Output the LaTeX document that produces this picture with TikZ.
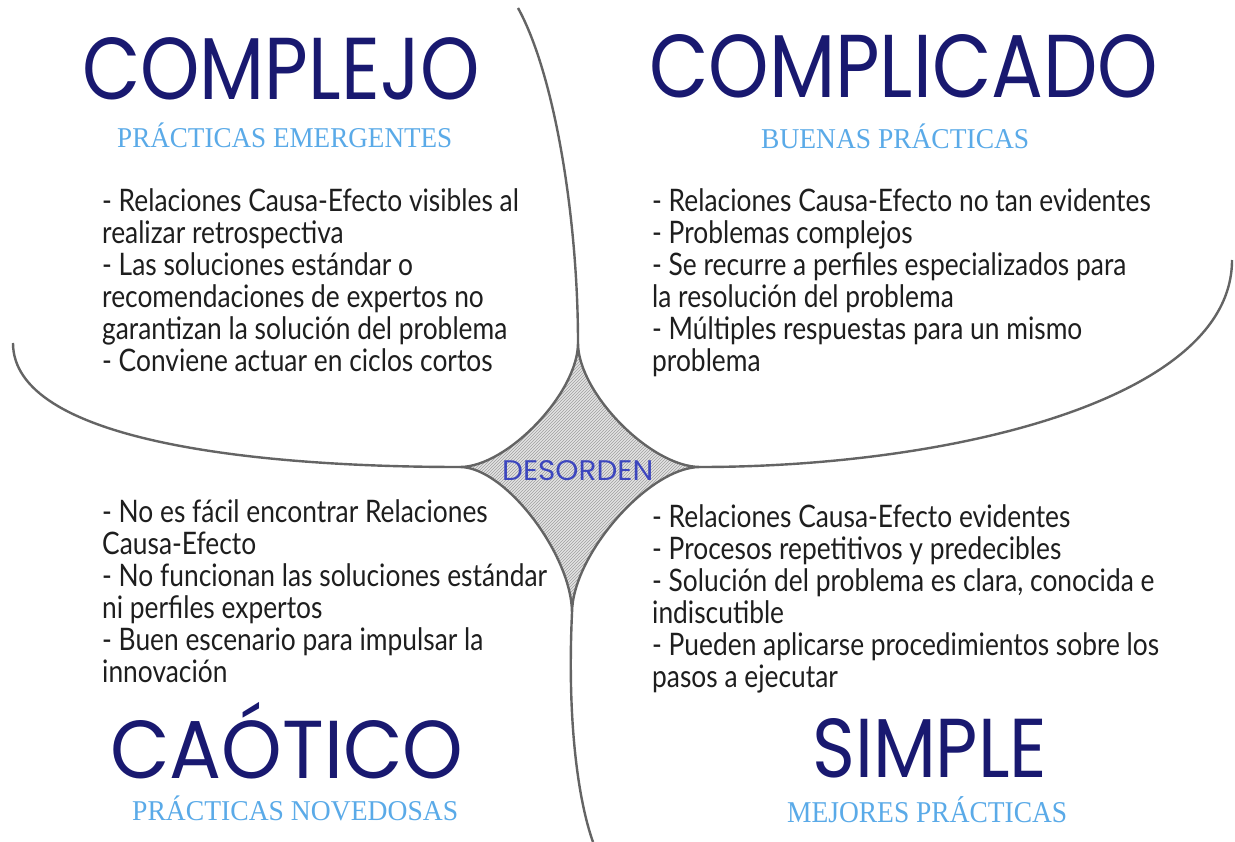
\documentclass[tikz,border=0pt]{standalone}
\usepackage{fontspec}
\usetikzlibrary{patterns}
\newfontfamily\bodyfont[FakeStretch=0.85]{Lato}
\newfontfamily\titlefont{Poppins}
\newfontfamily\subfont{Liberation Serif}
\definecolor{navy}{RGB}{25,25,112}
\definecolor{sky}{RGB}{90,170,232}
\definecolor{desblue}{RGB}{60,70,190}
\definecolor{linegray}{RGB}{100,100,100}
\definecolor{txt}{RGB}{30,30,30}
\tikzset{
  curve/.style={draw=linegray, line width=2.4pt},
  bodytext/.style={font=\bodyfont\fontsize{31}{32}\selectfont, text=txt, inner sep=0pt, anchor=base west},
  titletext/.style={text=navy, inner sep=0pt, anchor=base west},
  subtext/.style={text=sky, inner sep=0pt, anchor=base west},
}
\begin{document}
\begin{tikzpicture}[x=1pt,y=-1pt]
\useasboundingbox (0,0) rectangle (1235,842);
\fill[white] (0,0) rectangle (1235,842);

% star points
\coordinate (sT) at (578,343);
\coordinate (sR) at (700,467);
\coordinate (sB) at (572,613);
\coordinate (sL) at (460,467);
% outer ends
\coordinate (eT) at (518,8);
\coordinate (eL) at (13,343);
\coordinate (eR) at (1232,260);
\coordinate (eB) at (593,842);

\path[curve, preaction={fill=gray!22}, pattern=north east lines, pattern color=gray!75]
  (sL) .. controls (507,467) and (578,393) .. (sT)
       .. controls (578,393) and (651,467) .. (sR)
       .. controls (649,467) and (572,555) .. (sB)
       .. controls (572,555) and (505,467) .. (sL) -- cycle;

\draw[curve] (eT) .. controls (555,75) and (578,220) .. (sT);
\draw[curve] (eL) .. controls (13,440) and (250,467) .. (sL);
\draw[curve] (eR) .. controls (1232,400) and (950,467) .. (sR);
\draw[curve] (sB) .. controls (567,720) and (578,800) .. (eB);

% titles
\node[titletext] (complejo) at (82,100) {\resizebox{397pt}{62pt}{\titlefont COMPLEJO}};
\node[titletext] (complicado) at (649,98) {\resizebox{509pt}{63pt}{\titlefont COMPLICADO}};
\node[titletext] (caotico) at (110,778) {\resizebox{353pt}{58pt}{\titlefont CA\smash{Ó}TICO}};
\node[titletext] (simple) at (812,777) {\resizebox{235pt}{59pt}{\titlefont SIMPLE}};

% subtitles
\node[subtext] (subA) at (117,148) {\resizebox{335pt}{19pt}{\subfont PR\smash{Á}CTICAS EMERGENTES}};
\node[subtext] (subB) at (761,149) {\resizebox{268pt}{19pt}{\subfont BUENAS PR\smash{Á}CTICAS}};
\node[subtext] (subC) at (132,820) {\resizebox{326pt}{19pt}{\subfont PR\smash{Á}CTICAS NOVEDOSAS}};
\node[subtext] (subD) at (787,822) {\resizebox{280pt}{20pt}{\subfont MEJORES PR\smash{Á}CTICAS}};

% desorden
\node[text=desblue, inner sep=0pt, anchor=base west] (desorden) at (502,480) {\resizebox{151pt}{20pt}{\titlefont DESORDEN}};

% body text
\foreach \t [count=\i from 0] in {- Relaciones Causa-Efecto visibles al, realizar retrospectiva, - Las soluciones estándar o, recomendaciones de expertos no, garantizan la solución del problema, - Conviene actuar en ciclos cortos}
  \node[bodytext] (tl\i) at (102,212+32*\i) {\t};
\foreach \t [count=\i from 0] in {- Relaciones Causa-Efecto no tan evidentes, - Problemas complejos, - Se recurre a perfiles especializados para, la resolución del problema, - Múltiples respuestas para un mismo, problema}
  \node[bodytext] (tr\i) at (652,212+32*\i) {\t};
\foreach \t [count=\i from 0] in {- No es fácil encontrar Relaciones, Causa-Efecto, - No funcionan las soluciones estándar, ni perfiles expertos, - Buen escenario para impulsar la, innovación}
  \node[bodytext] (bl\i) at (102,522+32*\i) {\t};
\foreach \t [count=\i from 0] in {- Relaciones Causa-Efecto evidentes, - Procesos repetitivos y predecibles, {- Solución del problema es clara, conocida e}, indiscutible, - Pueden aplicarse procedimientos sobre los, pasos a ejecutar}
  \node[bodytext] (br\i) at (652,527+32*\i) {\t};
\end{tikzpicture}
\end{document}
